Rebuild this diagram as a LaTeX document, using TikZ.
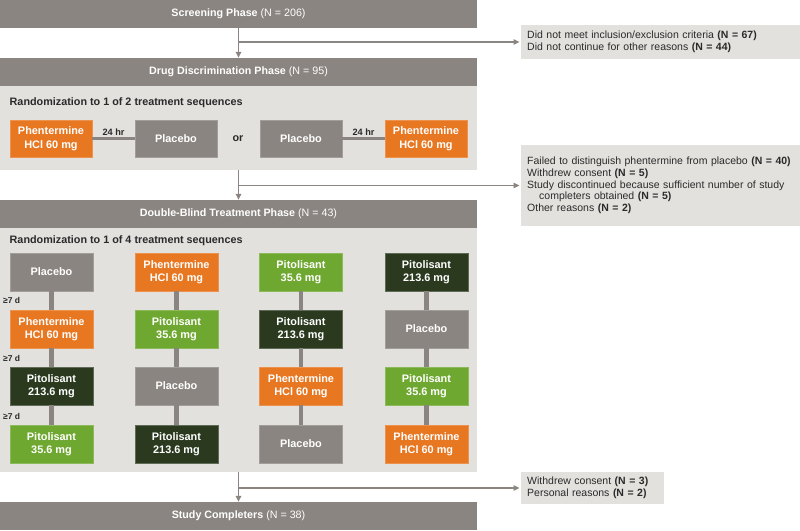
\documentclass[tikz,border=0pt]{standalone}
\usepackage{fontspec}
\setmainfont{Liberation Sans}
\usetikzlibrary{arrows.meta}
\definecolor{hgray}{HTML}{8A8580}
\definecolor{lgray}{HTML}{E3E1DE}
\definecolor{orng}{HTML}{E87722}
\definecolor{lgrn}{HTML}{6FA830}
\definecolor{dgrn}{HTML}{2B3A1F}
\definecolor{dtext}{HTML}{2A2A2A}
\newcommand\PlacT{Placebo}
\newcommand\PhenT{Phentermine\\HCl 60 mg}
\newcommand\PitLo{Pitolisant\\35.6 mg}
\newcommand\PitHi{Pitolisant\\213.6 mg}
\begin{document}
\begin{tikzpicture}[x=1pt,y=-1pt,
  hdr/.style={fill=hgray, text=white, minimum width=477pt, minimum height=28pt, inner sep=0pt, font=\fontsize{10.7}{12}\selectfont},
  panel/.style={fill=lgray, minimum width=477pt, inner sep=0pt},
  tbox/.style={minimum width=83pt, minimum height=38pt, inner sep=0pt, text=white, align=center, line width=0.7pt, font=\bfseries\fontsize{10.9}{13.5}\selectfont},
  bplac/.style={tbox, fill=hgray, draw=hgray!80!white},
  bphen/.style={tbox, fill=orng, draw=orng!80!white},
  bplo/.style={tbox, fill=lgrn, draw=lgrn!80!white},
  bphi/.style={tbox, fill=dgrn, draw=dgrn!75!white},
  vconn/.style={draw=hgray, line width=4.8pt},
  hconn/.style={draw=hgray, line width=3pt},
  flow/.style={draw=hgray, line width=1.6pt, -{Triangle[length=6pt,width=5.5pt]}},
  note/.style={fill=lgray, align=left, anchor=west, inner xsep=6pt, inner ysep=0pt, text=dtext, font=\fontsize{10.5}{11.7}\selectfont},
  lbl/.style={text=dtext, font=\bfseries\fontsize{9.2}{10}\selectfont, inner sep=1pt},
  lblsev/.style={text=dtext, font=\bfseries\fontsize{8.5}{10}\selectfont, inner sep=0pt, anchor=west},
  rnd/.style={text=dtext, font=\bfseries\fontsize{10.8}{12}\selectfont, inner sep=0pt, anchor=west}
]
\useasboundingbox (0,0) rectangle (800,530);
\fill[white] (0,0) rectangle (800,530);

% phase bars and panels
\node[hdr] (scr) at (238.5,14) {\textbf{Screening Phase} (N = 206)};
\node[hdr] (dd) at (238.5,72) {\textbf{Drug Discrimination Phase} (N = 95)};
\node[panel, minimum height=84pt] (ddp) at (238.5,128) {};
\node[hdr] (db) at (238.5,214) {\textbf{Double-Blind Treatment Phase} (N = 43)};
\node[panel, minimum height=244pt] (dbp) at (238.5,350) {};
\node[hdr] (sc) at (238.5,516) {\textbf{Study Completers} (N = 38)};

% exclusion notes
\node[note, text width=267pt, minimum height=34pt] (ex1) at (521,42) {Did not meet inclusion/exclusion criteria \textbf{(N = 67)}\\Did not continue for other reasons \textbf{(N = 44)}};
\node[note, text width=267pt, minimum height=81pt] (ex2) at (521,185.5) {\mbox{Failed to distinguish phentermine from placebo \textbf{(N = 40)}}\\Withdrew consent \textbf{(N = 5)}\\Study discontinued because sufficient number of study\\\hspace*{12pt}completers obtained \textbf{(N = 5)}\\Other reasons \textbf{(N = 2)}};
\node[note, text width=131pt, minimum height=32pt] (ex3) at (521,488) {Withdrew consent \textbf{(N = 3)}\\Personal reasons \textbf{(N = 2)}};

% flow arrows
\coordinate (b1) at (238.5,42);
\coordinate (b2) at (238.5,185.5);
\coordinate (b3) at (238.5,488);
\draw[flow] (scr.south) -- (dd.north);
\draw[flow, shorten >=1.5pt] (b1) -- (ex1.west);
\draw[flow] (ddp.south) -- (db.north);
\draw[flow, shorten >=1.5pt] (b2) -- (ex2.west);
\draw[flow] (dbp.south) -- (sc.north);
\draw[flow, shorten >=1.5pt] (b3) -- (ex3.west);

% drug discrimination
\node[rnd] (r1) at (9.5,102.5) {Randomization to 1 of 2 treatment sequences};
\node[bphen, minimum width=82pt, minimum height=37pt] (d1) at (51,138.5) {\PhenT};
\node[bplac, minimum width=82pt, minimum height=37pt] (d2) at (176,138.5) {\PlacT};
\node[text=dtext, font=\bfseries\fontsize{10.8}{12}\selectfont] (or1) at (238,139) {or};
\node[bplac, minimum width=82pt, minimum height=37pt] (d3) at (301,138.5) {\PlacT};
\node[bphen, minimum width=82pt, minimum height=37pt] (d4) at (426,138.5) {\PhenT};
\draw[hconn] (d1) -- node[lbl, above, yshift=1pt] {24 hr} (d2);
\draw[hconn] (d3) -- node[lbl, above, yshift=1pt] {24 hr} (d4);

% double-blind
\node[rnd] (r2) at (9.5,240.5) {Randomization to 1 of 4 treatment sequences};
% column 1
\node[bplac] (a1) at (51.5,272) {\PlacT};
\node[bphen] (a2) at (51.5,329) {\PhenT};
\node[bphi]  (a3) at (51.5,386) {\PitHi};
\node[bplo]  (a4) at (51.5,444) {\PitLo};
% column 2
\node[bphen] (b1n) at (176.5,272) {\PhenT};
\node[bplo]  (b2n) at (176.5,329) {\PitLo};
\node[bplac] (b3n) at (176.5,386) {\PlacT};
\node[bphi]  (b4n) at (176.5,444) {\PitHi};
% column 3
\node[bplo]  (c1) at (301,272) {\PitLo};
\node[bphi]  (c2) at (301,329) {\PitHi};
\node[bphen] (c3) at (301,386) {\PhenT};
\node[bplac] (c4) at (301,444) {\PlacT};
% column 4
\node[bphi]  (e1) at (426.5,272) {\PitHi};
\node[bplac] (e2) at (426.5,329) {\PlacT};
\node[bplo]  (e3) at (426.5,386) {\PitLo};
\node[bphen] (e4) at (426.5,444) {\PhenT};

\foreach \p/\q in {a1/a2,a2/a3,a3/a4,b1n/b2n,b2n/b3n,b3n/b4n,c1/c2,c2/c3,c3/c4,e1/e2,e2/e3,e3/e4}
  \draw[vconn] (\p) -- (\q);

\node[lblsev] (g1) at (3,300) {≥7 d};
\node[lblsev] (g2) at (3,358) {≥7 d};
\node[lblsev] (g3) at (3,416) {≥7 d};
\end{tikzpicture}
\end{document}
